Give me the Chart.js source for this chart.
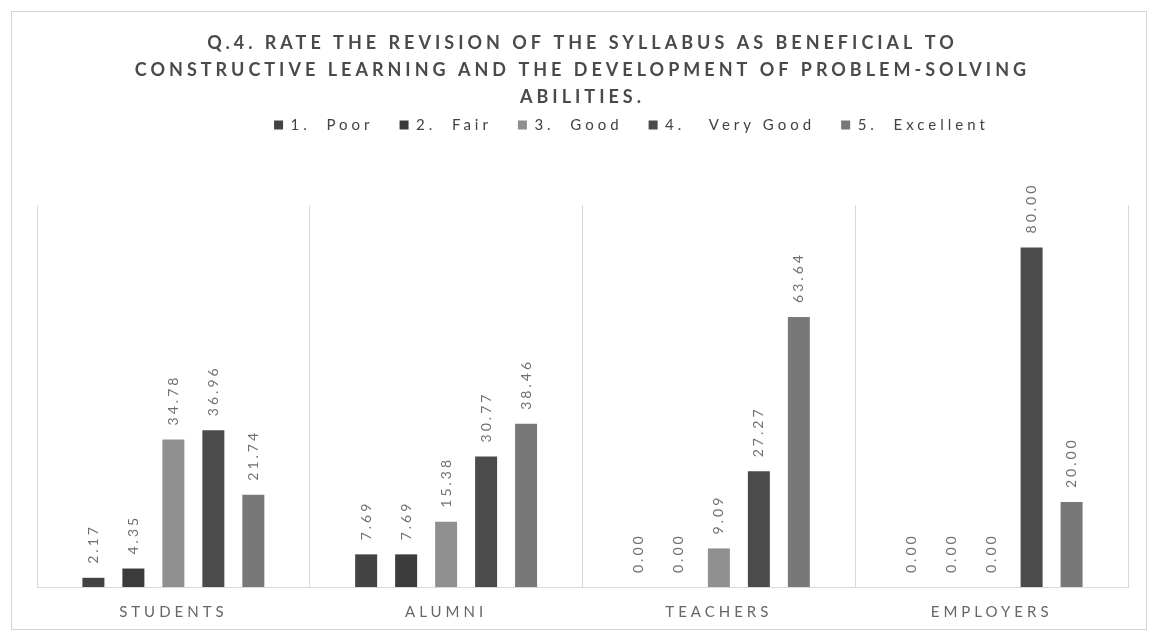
<!DOCTYPE html>
<html>
<head>
<meta charset="utf-8">
<script src="https://cdn.jsdelivr.net/npm/chart.js@4/dist/chart.umd.min.js"></script>
<style>
    html, body { margin: 0; padding: 0; background: #fff; }
    #wrap { width: 1154px; height: 638px; }
</style>
</head>
<body>
<div id="wrap"><canvas id="chart" width="1154" height="638"></canvas></div>
<script>
// Data
const categories = ['STUDENTS', 'ALUMNI', 'TEACHERS', 'EMPLOYERS'];
const seriesNames = ['1.  Poor', '2.  Fair', '3.  Good', '4.   Very Good', '5.  Excellent'];
const poor = [2.17, 7.69, 0.00, 0.00];
const fair = [4.35, 7.69, 0.00, 0.00];
const good = [34.78, 15.38, 9.09, 0.00];
const veryGood = [36.96, 30.77, 27.27, 80.00];
const excellent = [21.74, 38.46, 63.64, 20.00];
const titleLines = [
    'Q.4. RATE THE REVISION OF THE SYLLABUS AS BENEFICIAL TO',
    'CONSTRUCTIVE LEARNING AND THE DEVELOPMENT OF PROBLEM-SOLVING',
    'ABILITIES.'
];

const seriesColors = ['#434343', '#3b3b3b', '#8f8f8f', '#4b4b4b', '#787878'];
const spacing = '4px';

// Frame round the whole chart + letter spacing used by the scanned Excel text
const framePlugin = {
    id: 'frame',
    afterInit(chart) {
        // legend sits a little right of centre in the original
        const legend = chart.legend;
        const draw = legend.draw;
        legend.draw = function() {
            this.ctx.save();
            this.ctx.translate(49, 0);
            draw.apply(this, arguments);
            this.ctx.restore();
        };
    },
    beforeLayout(chart) {
        chart.ctx.letterSpacing = spacing;
    },
    beforeDraw(chart) {
        const ctx = chart.ctx;
        ctx.save();
        ctx.fillStyle = '#ffffff';
        ctx.fillRect(0, 0, chart.width, chart.height);
        ctx.strokeStyle = '#d4d4d4';
        ctx.lineWidth = 1;
        ctx.strokeRect(11.5, 11.5, 1135, 618);
        ctx.restore();
        ctx.letterSpacing = spacing;
    }
};

// Rotated value labels above each bar
const valueLabels = {
    id: 'valueLabels',
    afterDatasetsDraw(chart) {
        const ctx = chart.ctx;
        ctx.save();
        ctx.letterSpacing = '3px';
        ctx.font = '14px Lato';
        ctx.fillStyle = '#707070';
        ctx.textAlign = 'left';
        ctx.textBaseline = 'middle';
        chart.data.datasets.forEach((ds, i) => {
            chart.getDatasetMeta(i).data.forEach((bar, j) => {
                ctx.save();
                ctx.translate(bar.x, bar.y - 14);
                ctx.rotate(-Math.PI / 2);
                ctx.fillText(ds.data[j].toFixed(2), 0, 0);
                ctx.restore();
            });
        });
        ctx.restore();
    }
};

const ctx = document.getElementById('chart').getContext('2d');
new Chart(ctx, {
    type: 'bar',
    data: {
        labels: categories,
        datasets: [poor, fair, good, veryGood, excellent].map((d, i) => ({
            label: seriesNames[i],
            data: d,
            backgroundColor: seriesColors[i],
            categoryPercentage: 0.733,
            barPercentage: 0.55
        }))
    },
    options: {
        responsive: false,
        animation: false,
        devicePixelRatio: 1,
        layout: {
            padding: { top: 20, left: 37, right: 26, bottom: 1 }
        },
        plugins: {
            tooltip: { enabled: false },
            title: {
                display: true,
                text: titleLines,
                color: '#4a4a4a',
                font: { family: 'Lato', size: 18, weight: 'bold', lineHeight: 1.5 },
                padding: { top: 9.5, bottom: -19 }
            },
            legend: {
                display: true,
                labels: {
                    color: '#424242',
                    font: { family: 'Lato', size: 15 },
                    boxWidth: 9,
                    boxHeight: 9,
                    padding: 26
                }
            },
            // empty block: keeps the gap between the legend and the plot
            subtitle: {
                display: true,
                text: ' ',
                weight: 500,
                font: { size: 10, lineHeight: 1 },
                padding: { top: 52.5, bottom: 0 }
            }
        },
        scales: {
            x: {
                grid: { offset: true, color: '#d9d9d9', drawTicks: false },
                border: { display: true, color: '#d9d9d9' },
                ticks: {
                    color: '#666666',
                    font: { family: 'Lato', size: 15 },
                    padding: 16
                }
            },
            y: {
                display: false,
                min: 0,
                max: 90
            }
        }
    },
    plugins: [framePlugin, valueLabels]
});
</script>
</body>
</html>
